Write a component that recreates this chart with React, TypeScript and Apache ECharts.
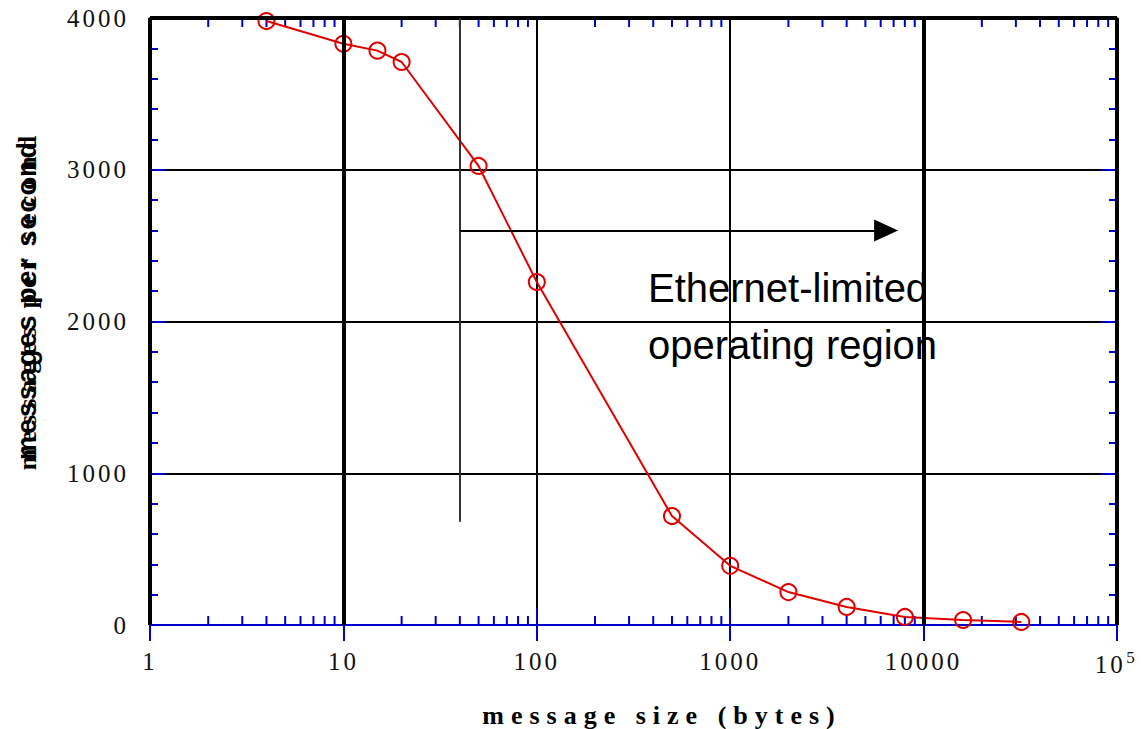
import React, { useEffect, useRef } from "react";
import * as echarts from "echarts";

// ---- data ----
const messageSize = [4, 10, 15, 20, 50, 100, 500, 1000, 2000, 4000, 8000, 16000, 32000];
const messagesPerSecond = [3980, 3830, 3785, 3710, 3025, 2260, 718, 390, 217, 119, 53, 33, 20];
const xTickLabels = ["1", "10", "100", "1000", "10000", "10^5"];
const yTicks = [0, 1000, 2000, 3000, 4000];
const thickX = [1, 10, 10000, 100000];
const minorMult = [2, 3, 4, 5, 6, 7, 8, 9];
const decades = [1, 10, 100, 1000, 10000];
const regionStart = 40;
const arrowEnd = 6400;
const arrowY = 2600;
const dividerTop = 4000;
const dividerBottom = 680;
const annotation = "Ethernet-limited\noperating region";
const xTitle = "message size (bytes)";
const yTitle = "messages per second";

const BLUE = "#0000cc";
const RED = "#e00000";
const SERIF = "'Liberation Serif', serif";
const SPACED = "'Times New Roman', 'Liberation Serif', serif";
const YSPACED = "'Nimbus Roman', 'Liberation Serif', serif";

export default function App() {
  const ref = useRef<HTMLDivElement>(null);
  useEffect(() => {
    if (!ref.current) return;
    const chart = echarts.init(ref.current, null, { renderer: "svg" });
    const minorX: number[][] = [];
    decades.forEach((d) => minorMult.forEach((m) => minorX.push([d * m, 0])));

    const axisLineStyle = { show: true, lineStyle: { color: BLUE, width: 2 } };
    const xLabelFmt = (v: number) => {
      const r = Math.round(v);
      const idx = [1, 10, 100, 1000, 10000, 100000].indexOf(r);
      const s = idx >= 0 ? xTickLabels[idx] : String(r);
      if (s === "10^5") return "{b|10}{s|5}";
      return "{b|" + s + "}";
    };

    chart.setOption({
      animation: false,
      backgroundColor: "#ffffff",
      grid: { left: 150, width: 967, top: 18, height: 607 },
      xAxis: [
        {
          type: "log",
          logBase: 10,
          min: 1,
          max: 100000,
          position: "bottom",
          z: 1,
          axisLine: axisLineStyle,
          axisTick: { show: true, inside: true, length: 17, lineStyle: { color: BLUE, width: 2 } },
          axisLabel: {
            margin: 24,
            formatter: xLabelFmt,
            rich: {
              b: { fontFamily: SERIF, fontSize: 25, color: "#111" },
              s: { fontFamily: SERIF, fontSize: 17, color: "#111", padding: [0, 0, 14, 5] },
            },
          },
          splitLine: { show: true, lineStyle: { color: "#000", width: 2 } },
          minorTick: { show: false },
        },
        {
          type: "log",
          logBase: 10,
          min: 1,
          max: 100000,
          position: "top",
          z: 1,
          axisLine: axisLineStyle,
          axisTick: { show: true, inside: true, length: 16, lineStyle: { color: BLUE, width: 2 } },
          axisLabel: { show: false },
          splitLine: { show: false },
        },
      ],
      yAxis: [
        {
          type: "value",
          min: 0,
          max: 4000,
          interval: 1000,
          position: "left",
          z: 1,
          axisLine: axisLineStyle,
          axisTick: { show: true, inside: true, length: 15, lineStyle: { color: BLUE, width: 2 } },
          minorTick: { show: true, splitNumber: 5, length: 8, lineStyle: { color: BLUE, width: 2 } },
          axisLabel: {
            margin: 21,
            fontFamily: SERIF,
            fontSize: 25,
            color: "#111",
            formatter: (v: number) => String(yTicks[yTicks.indexOf(Math.round(v))] ?? v),
          },
          splitLine: { show: true, lineStyle: { color: "#000", width: 2 } },
        },
        {
          type: "value",
          min: 0,
          max: 4000,
          interval: 1000,
          position: "right",
          z: 1,
          axisLine: axisLineStyle,
          axisTick: { show: true, inside: true, length: 15, lineStyle: { color: BLUE, width: 2 } },
          minorTick: { show: true, splitNumber: 5, length: 8, lineStyle: { color: BLUE, width: 2 } },
          axisLabel: { show: false },
          splitLine: { show: false },
        },
      ],
      graphic: [
        {
          type: "text",
          left: 648,
          top: 259,
          z: 10,
          style: {
            text: annotation,
            fontFamily: "'Liberation Sans', Arial, sans-serif",
            fontSize: 40,
            lineHeight: 57,
            fill: "#000",
          },
        },
        {
          type: "text",
          x: 662,
          y: 715,
          z: 10,
          style: {
            text: xTitle,
            fontFamily: SPACED,
            fontWeight: "bold",
            fontSize: 26,
            fill: "#000",
            align: "center",
            verticalAlign: "middle",
          },
        },
        {
          type: "text",
          x: 27,
          y: 300,
          rotation: Math.PI / 2,
          z: 10,
          style: {
            text: yTitle,
            fontFamily: YSPACED,
            fontWeight: "bold",
            fontSize: 26,
            fill: "#000",
            align: "center",
            verticalAlign: "middle",
          },
        },
        {
          type: "text",
          x: 27,
          y: 300,
          rotation: Math.PI / 2,
          z: 10,
          style: {
            text: yTitle,
            fontFamily: "'Arial Narrow', 'Liberation Sans Narrow', sans-serif",
            fontWeight: "bold",
            fontSize: 27,
            fill: "#000",
            align: "center",
            verticalAlign: "middle",
          },
        },
      ],
      series: [
        {
          type: "line",
          name: "grid",
          data: [],
          z: 0,
          silent: true,
          markLine: {
            silent: true,
            symbol: ["none", "none"],
            label: { show: false },
            lineStyle: { color: "#000", width: 4, type: "solid" },
            data: [...thickX.map((v) => ({ xAxis: v })), { yAxis: 4000 }],
          },
        },
        {
          type: "custom",
          name: "minorTicks",
          coordinateSystem: "cartesian2d",
          z: 2,
          silent: true,
          clip: false,
          data: minorX,
          renderItem: (params: any, api: any) => {
            const v = api.value(0);
            const b = api.coord([v, 0]);
            const t = api.coord([v, 4000]);
            const st = { stroke: BLUE, lineWidth: 2 };
            return {
              type: "group",
              children: [
                { type: "line", shape: { x1: b[0], y1: b[1], x2: b[0], y2: b[1] - 9 }, style: st },
                { type: "line", shape: { x1: t[0], y1: t[1], x2: t[0], y2: t[1] + 9 }, style: st },
              ],
            };
          },
        },
        {
          type: "line",
          name: "annotations",
          data: [],
          z: 3,
          silent: true,
          markLine: {
            silent: true,
            label: { show: false },
            data: [
              [
                { coord: [regionStart, dividerTop], symbol: "none", lineStyle: { color: "#333", width: 2, type: "solid" } },
                { coord: [regionStart, dividerBottom], symbol: "none" },
              ],
              [
                { coord: [regionStart, arrowY], symbol: "none", lineStyle: { color: "#000", width: 2, type: "solid" } },
                { coord: [arrowEnd, arrowY], symbol: "triangle", symbolSize: [22, 24], symbolRotate: -90 },
              ],
            ],
          },
        },
        {
          type: "line",
          name: "messages per second",
          data: messageSize.map((x, i) => [x, messagesPerSecond[i]]),
          z: 4,
          clip: false,
          symbol: "circle",
          symbolSize: 16,
          lineStyle: { color: RED, width: 2 },
          itemStyle: { color: "rgba(255,255,255,0)", borderColor: RED, borderWidth: 2 },
        },
      ],
    });
    return () => chart.dispose();
  }, []);

  return (
    <>
      <style>{`
        svg text[style*="Liberation Serif"] { letter-spacing: 3px; }
        svg text[style*="Times New Roman"] { letter-spacing: 7px; }
        svg text[style*="Nimbus Roman"] { letter-spacing: 6px; }
        svg text[style*="Arial Narrow"] { letter-spacing: 2px; }
      `}</style>
      <div ref={ref} style={{ position: "absolute", left: 0, top: 0, width: 1145, height: 729 }} />
    </>
  );
}
